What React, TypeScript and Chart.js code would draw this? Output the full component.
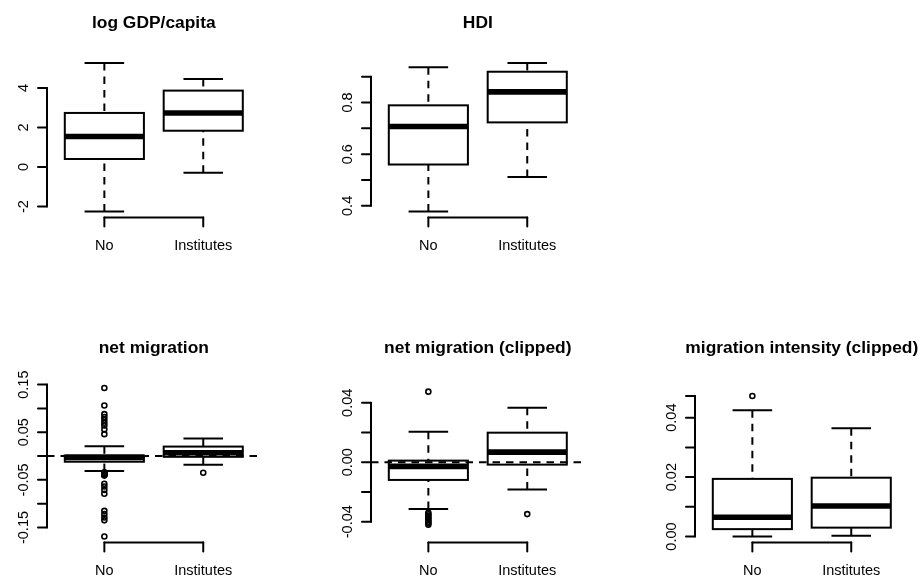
import React, { useEffect, useRef } from 'react';
import { Chart, registerables } from 'chart.js';

Chart.register(...registerables);

// ---------- data ----------
const groups = ['No', 'Institutes'];

// five-number summaries: [lower whisker, Q1, median, Q3, upper whisker]
const gdpNo = [-2.25, 0.41, 1.55, 2.74, 5.27];
const gdpInstitutes = [-0.29, 1.84, 2.74, 3.87, 4.46];
const gdpTicks = [-2, 0, 2, 4];
const gdpTickLabels = ['-2', '0', '2', '4'];

const hdiNo = [0.378, 0.56, 0.707, 0.789, 0.936];
const hdiInstitutes = [0.512, 0.723, 0.841, 0.919, 0.953];
const hdiTicks = [0.4, 0.5, 0.6, 0.7, 0.8, 0.9];
const hdiTickLabels = ['0.4', '', '0.6', '', '0.8', ''];

const netNo = [-0.0315, -0.0119, -0.0028, 0.0011, 0.0205];
const netInstitutes = [-0.0184, -0.0016, 0.0068, 0.0199, 0.0366];
const netNoOutliers = [
  0.143, 0.106, 0.088, 0.082, 0.076, 0.07, 0.064, 0.056, 0.046,
  -0.034, -0.035, -0.036, -0.037, -0.038, -0.039, -0.04, -0.041,
  -0.058, -0.064, -0.071, -0.079, -0.115, -0.122, -0.129, -0.135, -0.169,
];
const netInstitutesOutliers = [-0.0349];
const netTicks = [-0.15, -0.1, -0.05, 0, 0.05, 0.1, 0.15];
const netTickLabels = ['-0.15', '', '-0.05', '', '0.05', '', '0.15'];

const clipNo = [-0.0315, -0.0119, -0.0028, 0.0011, 0.0205];
const clipInstitutes = [-0.0184, -0.0016, 0.0068, 0.0199, 0.0366];
const clipNoOutliers = [0.0475, -0.034, -0.035, -0.036, -0.037, -0.038, -0.039, -0.04, -0.041, -0.042];
const clipInstitutesOutliers = [-0.0349];
const clipTicks = [-0.04, -0.02, 0, 0.02, 0.04];
const clipTickLabels = ['-0.04', '', '0.00', '', '0.04'];
const clipYRange = [-0.05, 0.05];

const intensityNo = [0, 0.0025, 0.0065, 0.0194, 0.0425];
const intensityInstitutes = [0.0003, 0.003, 0.0103, 0.0198, 0.0364];
const intensityNoOutliers = [0.0473];
const intensityInstitutesOutliers: number[] = [];
const intensityTicks = [0, 0.01, 0.02, 0.03, 0.04, 0.0473];
const intensityTickLabels = ['0.00', '', '0.02', '', '0.04', ''];
const intensityYRange = [0, 0.05];

type Panel = {
  title: string;
  stats: number[][];
  outliers: number[][];
  ticks: number[];
  tickLabels: string[];
  yRange: number[] | null;
  refLine: number | null;
  col: number;
  row: number;
};

const panels: Panel[] = [
  { title: 'log GDP/capita', stats: [gdpNo, gdpInstitutes], outliers: [[], []], ticks: gdpTicks, tickLabels: gdpTickLabels, yRange: null, refLine: null, col: 0, row: 0 },
  { title: 'HDI', stats: [hdiNo, hdiInstitutes], outliers: [[], []], ticks: hdiTicks, tickLabels: hdiTickLabels, yRange: null, refLine: null, col: 1, row: 0 },
  { title: 'net migration', stats: [netNo, netInstitutes], outliers: [netNoOutliers, netInstitutesOutliers], ticks: netTicks, tickLabels: netTickLabels, yRange: null, refLine: 0, col: 0, row: 1 },
  { title: 'net migration (clipped)', stats: [clipNo, clipInstitutes], outliers: [clipNoOutliers, clipInstitutesOutliers], ticks: clipTicks, tickLabels: clipTickLabels, yRange: clipYRange, refLine: 0, col: 1, row: 1 },
  { title: 'migration intensity (clipped)', stats: [intensityNo, intensityInstitutes], outliers: [intensityNoOutliers, intensityInstitutesOutliers], ticks: intensityTicks, tickLabels: intensityTickLabels, yRange: intensityYRange, refLine: null, col: 2, row: 1 },
];

// ---------- layout / style ----------
const CELL_W = 324;
const CELL_H = 325;
const PAD = { left: 47, right: 63.4, top: 57, bottom: 107.5 };
const LW = 2;
const MED_LW = 5.6;
const DASH = [7.5, 6];
const FONT = '"Liberation Sans", Arial, Helvetica, sans-serif';
const TICK_FONT = `14.5px ${FONT}`;
const TITLE_FONT = `bold 17.4px ${FONT}`;
const TICK_LEN = 9;

function yLimits(p: Panel) {
  let lo: number, hi: number;
  if (p.yRange) {
    lo = p.yRange[0];
    hi = p.yRange[1];
  } else {
    const all = [...p.stats.flat(), ...p.outliers.flat()];
    lo = Math.min(...all);
    hi = Math.max(...all);
  }
  const r = hi - lo;
  return [lo - 0.04 * r, hi + 0.04 * r];
}

function makePlugin(p: Panel) {
  const seg = (ctx: CanvasRenderingContext2D, x1: number, y1: number, x2: number, y2: number) => {
    ctx.beginPath();
    ctx.moveTo(x1, y1);
    ctx.lineTo(x2, y2);
    ctx.stroke();
  };
  return {
    id: 'rBoxplot',
    beforeDatasetsDraw(chart: any) {
      const { ctx } = chart;
      const xs = chart.scales.x;
      const ys = chart.scales.y;
      ctx.save();
      ctx.strokeStyle = '#000';
      ctx.lineWidth = LW;
      p.stats.forEach((s, i) => {
        const x = i + 1;
        const xc = xs.getPixelForValue(x);
        const xl = xs.getPixelForValue(x - 0.4);
        const xr = xs.getPixelForValue(x + 0.4);
        const sl = xs.getPixelForValue(x - 0.2);
        const sr = xs.getPixelForValue(x + 0.2);
        const [lo, q1, med, q3, hi] = s.map((v) => ys.getPixelForValue(v));
        ctx.lineCap = 'butt';
        ctx.setLineDash(DASH);
        seg(ctx, xc, lo, xc, q1);
        seg(ctx, xc, hi, xc, q3);
        ctx.setLineDash([]);
        seg(ctx, sl, lo, sr, lo);
        seg(ctx, sl, hi, sr, hi);
        ctx.lineJoin = 'miter';
        ctx.strokeRect(xl, q3, xr - xl, q1 - q3);
        ctx.lineWidth = MED_LW;
        seg(ctx, xl, med, xr, med);
        ctx.lineWidth = LW;
      });
      ctx.restore();
    },
    afterDatasetsDraw(chart: any) {
      const { ctx, chartArea } = chart;
      const xs = chart.scales.x;
      const ys = chart.scales.y;
      ctx.save();
      ctx.strokeStyle = '#000';
      ctx.fillStyle = '#000';
      ctx.lineWidth = LW;

      // reference line
      if (p.refLine !== null) {
        const y = ys.getPixelForValue(p.refLine);
        ctx.setLineDash(DASH);
        ctx.lineCap = 'butt';
        seg(ctx, chartArea.left, y, chartArea.right, y);
        ctx.setLineDash([]);
      }

      ctx.lineCap = 'round';
      // y axis
      const ax = chartArea.left;
      const yTop = ys.getPixelForValue(p.ticks[p.ticks.length - 1]);
      const yBot = ys.getPixelForValue(p.ticks[0]);
      seg(ctx, ax, yTop, ax, yBot);
      ctx.font = TICK_FONT;
      ctx.textAlign = 'center';
      ctx.textBaseline = 'alphabetic';
      p.ticks.forEach((t, i) => {
        const y = ys.getPixelForValue(t);
        seg(ctx, ax - TICK_LEN, y, ax, y);
        const lab = p.tickLabels[i];
        if (lab) {
          ctx.save();
          ctx.translate(ax - 19.5, y);
          ctx.rotate(-Math.PI / 2);
          ctx.fillText(lab, 0, 0);
          ctx.restore();
        }
      });

      // x axis
      const by = chartArea.bottom;
      const x1 = xs.getPixelForValue(1);
      const x2 = xs.getPixelForValue(groups.length);
      seg(ctx, x1, by, x2, by);
      groups.forEach((g, i) => {
        const x = xs.getPixelForValue(i + 1);
        seg(ctx, x, by, x, by + TICK_LEN);
        ctx.fillText(g, x, by + 32.5);
      });

      // title
      ctx.font = TITLE_FONT;
      ctx.fillText(p.title, (chartArea.left + chartArea.right) / 2, chartArea.top - 29.5);
      ctx.restore();
    },
  };
}

function BoxPanel({ panel }: { panel: Panel }) {
  const ref = useRef<HTMLCanvasElement>(null);
  useEffect(() => {
    if (!ref.current) return;
    const [ymin, ymax] = yLimits(panel);
    const points = panel.outliers.flatMap((arr, i) => arr.map((v) => ({ x: i + 1, y: v })));
    const chart = new Chart(ref.current, {
      type: 'scatter',
      data: {
        datasets: [
          {
            label: 'outliers',
            data: points,
            pointStyle: 'circle',
            pointRadius: 2.5,
            pointBorderWidth: 1.6,
            pointBackgroundColor: 'rgba(0,0,0,0)',
            pointBorderColor: '#000',
            showLine: false,
          },
        ],
      },
      options: {
        responsive: false,
        animation: false,
        events: [],
        devicePixelRatio: 1,
        layout: { padding: PAD },
        scales: {
          x: { type: 'linear', min: 0.42, max: 2.58, display: false },
          y: { type: 'linear', min: ymin, max: ymax, display: false },
        },
        plugins: {
          legend: { display: false },
          tooltip: { enabled: false },
          title: { display: false },
        },
      },
      plugins: [makePlugin(panel)],
    } as any);
    return () => chart.destroy();
  }, [panel]);
  return (
    <canvas
      ref={ref}
      width={CELL_W}
      height={CELL_H}
      style={{ position: 'absolute', left: panel.col * CELL_W, top: panel.row * CELL_H, width: CELL_W, height: CELL_H, display: 'block' }}
    />
  );
}

export default function App() {
  return (
    <div style={{ position: 'fixed', left: 0, top: 0, width: 922, height: 577, overflow: 'hidden', background: '#fff' }}>
      {panels.map((p, i) => (
        <BoxPanel key={i} panel={p} />
      ))}
    </div>
  );
}
